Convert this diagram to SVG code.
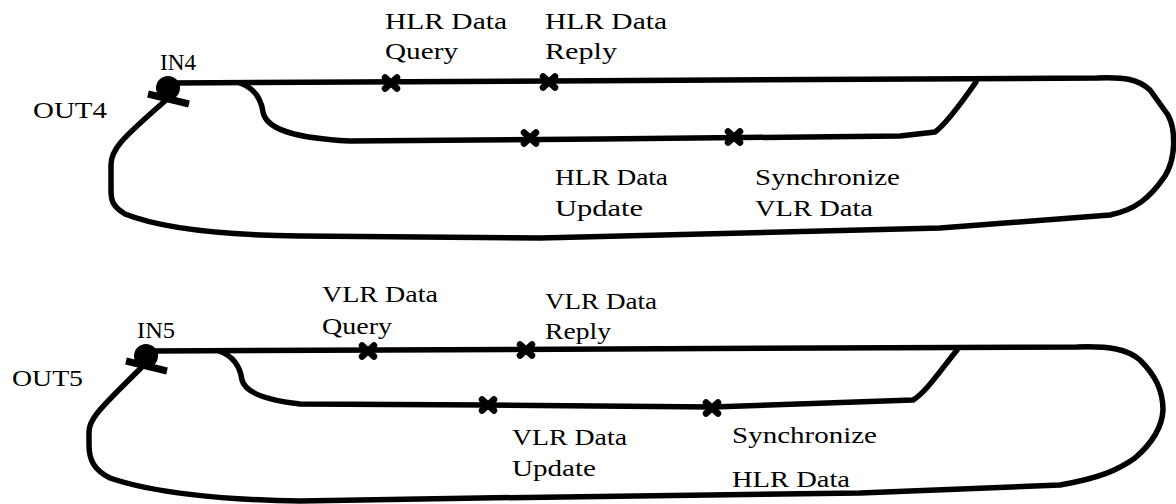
<svg xmlns="http://www.w3.org/2000/svg" width="1176" height="504" viewBox="0 0 1176 504">
<style>
.ln{fill:none;stroke:#000;stroke-width:5.5;stroke-linejoin:round;stroke-linecap:round}
.tee{stroke:#000;stroke-width:7;stroke-linecap:butt}
.t{font-family:"Liberation Serif","Times New Roman",serif;font-size:23px;fill:#000}
</style>
<defs>
<g id="x"><path d="M-6,-5.5 L6,5.5 M-6,5.5 L6,-5.5" stroke="#000" stroke-width="6.5" stroke-linecap="round"/></g>
</defs>
<rect width="1176" height="504" fill="#fff"/>
<g id="connectors">
<path class="ln" d="M172,83 L1097,78 C1125,77 1138,79 1150,90 L1168,115 C1176,130 1176,158 1165,176 C1150,198 1135,210 1110,215 L940,228 L540,238 L300,236 C220,235 160,228 125,214 C112,206 111,200 111,190 L111,165 C111,150 120,140 165,101"/>
<path class="ln" d="M240,83 C254,88 261,98 263,112 C266,128 290,138 350,141 L600,139 L900,136 L935,132 C946,124 960,105 976,82"/>
<path class="ln" d="M152,351 L1077,347 C1110,346 1127,349 1140,360 C1155,375 1163,390 1163,410 C1162,430 1150,445 1135,458 C1118,470 1100,478 1060,485 L860,493 L480,498 L300,501 C220,500 150,492 110,478 C94,470 89,460 89,445 L89,432 C89,420 96,412 141,368"/>
<path class="ln" d="M219,351 C233,356 240,365 242,380 C245,392 265,400 300,404 L487,405 L713,407 L913,400 C925,393 937,375 957,350"/>
</g>
<g id="node-in4">
<circle cx="168" cy="88" r="12" fill="#000"/>
<line class="tee" x1="148" y1="94" x2="189" y2="104"/>
<text class="t" x="160" y="70" textLength="36" lengthAdjust="spacingAndGlyphs">IN4</text>
<text class="t" x="33" y="118" textLength="74" lengthAdjust="spacingAndGlyphs">OUT4</text>
</g>
<g id="node-in5">
<circle cx="146" cy="356" r="12" fill="#000"/>
<line class="tee" x1="126" y1="361" x2="167" y2="371"/>
<text class="t" x="137" y="338" textLength="38" lengthAdjust="spacingAndGlyphs">IN5</text>
<text class="t" x="12" y="386" textLength="71" lengthAdjust="spacingAndGlyphs">OUT5</text>
</g>
<g id="hlr-query">
<use href="#x" x="391" y="83"/>
<text class="t" x="385" y="29" textLength="122" lengthAdjust="spacingAndGlyphs">HLR Data</text>
<text class="t" x="385" y="59" textLength="73" lengthAdjust="spacingAndGlyphs">Query</text>
</g>
<g id="hlr-reply">
<use href="#x" x="549" y="82"/>
<text class="t" x="545" y="29" textLength="122" lengthAdjust="spacingAndGlyphs">HLR Data</text>
<text class="t" x="545" y="59" textLength="72" lengthAdjust="spacingAndGlyphs">Reply</text>
</g>
<g id="hlr-update">
<use href="#x" x="530" y="138"/>
<text class="t" x="555" y="185" textLength="113" lengthAdjust="spacingAndGlyphs">HLR Data</text>
<text class="t" x="555" y="216" textLength="88" lengthAdjust="spacingAndGlyphs">Update</text>
</g>
<g id="sync-vlr">
<use href="#x" x="734" y="137"/>
<text class="t" x="755" y="185" textLength="145" lengthAdjust="spacingAndGlyphs">Synchronize</text>
<text class="t" x="755" y="216" textLength="118" lengthAdjust="spacingAndGlyphs">VLR Data</text>
</g>
<g id="vlr-query">
<use href="#x" x="368" y="351"/>
<text class="t" x="322" y="302" textLength="116" lengthAdjust="spacingAndGlyphs">VLR Data</text>
<text class="t" x="322" y="334" textLength="70" lengthAdjust="spacingAndGlyphs">Query</text>
</g>
<g id="vlr-reply">
<use href="#x" x="526" y="350"/>
<text class="t" x="545" y="309" textLength="112" lengthAdjust="spacingAndGlyphs">VLR Data</text>
<text class="t" x="545" y="339" textLength="66" lengthAdjust="spacingAndGlyphs">Reply</text>
</g>
<g id="vlr-update">
<use href="#x" x="488" y="405"/>
<text class="t" x="512" y="445" textLength="115" lengthAdjust="spacingAndGlyphs">VLR Data</text>
<text class="t" x="512" y="476" textLength="84" lengthAdjust="spacingAndGlyphs">Update</text>
</g>
<g id="sync-hlr">
<use href="#x" x="712" y="408"/>
<text class="t" x="732" y="443" textLength="145" lengthAdjust="spacingAndGlyphs">Synchronize</text>
<text class="t" x="732" y="487" textLength="118" lengthAdjust="spacingAndGlyphs">HLR Data</text>
</g>
</svg>
